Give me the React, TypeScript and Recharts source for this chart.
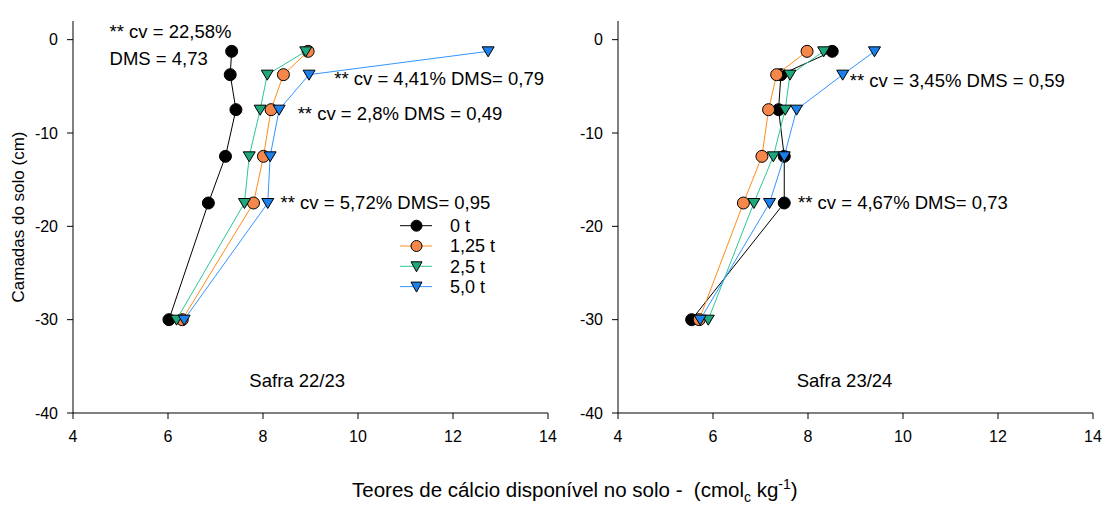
import {
  ScatterChart,
  Scatter,
  XAxis,
  YAxis,
  ReferenceDot,
  Legend,
  Label
} from "recharts";


// soil layers (cm), same for every series
const DEPTHS = [-1.25, -3.75, -7.5, -12.5, -17.5, -30];

// Safra 22/23
const T0_2223 = [7.34, 7.31, 7.43, 7.21, 6.85, 6.02];
const T125_2223 = [8.95, 8.43, 8.17, 8.01, 7.8, 6.3];
const T25_2223 = [8.9, 8.09, 7.94, 7.71, 7.61, 6.18];
const T50_2223 = [12.74, 8.97, 8.34, 8.15, 8.1, 6.34];

// Safra 23/24
const T0_2324 = [8.51, 7.43, 7.38, 7.5, 7.5, 5.55];
const T125_2324 = [7.98, 7.34, 7.17, 7.03, 6.64, 5.71];
const T25_2324 = [8.33, 7.62, 7.52, 7.27, 6.86, 5.9];
const T50_2324 = [9.4, 8.73, 7.76, 7.5, 7.19, 5.73];

const SERIES_NAMES = ["0 t", "1,25 t", "2,5 t", "5,0 t"];

const X_TICKS = [4, 6, 8, 10, 12, 14];
const Y_TICKS = [0, -10, -20, -30, -40];

const FONT = "'Liberation Sans', Arial, sans-serif";
const NOTE_SIZE = 18.5;

const STYLES = [
  { line: "#000000", fill: "#000000", kind: "circle" },
  { line: "#ff8c1a", fill: "#f5874a", kind: "circle" },
  { line: "#2cc797", fill: "#1ea67c", kind: "tri" },
  { line: "#3395ff", fill: "#1c80ec", kind: "tri" },
];


function toPoints(values: number[]) {
  return values.map((v, i) => ({ x: v, y: DEPTHS[i] }));
}


function Marker({ cx, cy, kind, fill, r = 6 }: any) {
  if (cx == null || cy == null) return null;
  if (kind === "circle") {
    return <circle cx={cx} cy={cy} r={r} fill={fill} stroke="#000" strokeWidth={1} />;
  }
  const w = r;
  return (
    <polygon
      points={`${cx - w},${cy - 4.5} ${cx + w},${cy - 4.5} ${cx},${cy + 5.5}`}
      fill={fill}
      stroke="#000"
      strokeWidth={1}
    />
  );
}


function LegendBox() {
  return (
    <svg width={130} height={90} style={{ fontFamily: FONT }}>
      {SERIES_NAMES.map((name, i) => {
        const cy = 11.7 + i * 20.3;
        const s = STYLES[i];
        return (
          <g key={name}>
            <line x1={5} x2={37} y1={cy} y2={cy} stroke={s.line} strokeWidth={1} />
            <Marker cx={21.5} cy={cy} kind={s.kind} fill={s.fill} r={5.5} />
            <text x={55} y={cy} dy="0.35em" fontSize={18} fill="#000">
              {name}
            </text>
          </g>
        );
      })}
    </svg>
  );
}


interface Note {
  x: number;
  y: number;
  text: string;
}

const NOTES_2223: Note[] = [
  { x: 4.77, y: 0.86, text: "** cv = 22,58%" },
  { x: 4.77, y: -2.04, text: "DMS = 4,73" },
  { x: 9.5, y: -4.2, text: "** cv = 4,41% DMS= 0,79" },
  { x: 8.73, y: -7.9, text: "** cv = 2,8% DMS = 0,49" },
  { x: 8.37, y: -17.4, text: "** cv = 5,72% DMS= 0,95" },
];

const NOTES_2324: Note[] = [
  { x: 8.88, y: -4.35, text: "** cv = 3,45% DMS = 0,59" },
  { x: 7.79, y: -17.4, text: "** cv = 4,67% DMS= 0,73" },
];


function Panel({
  series,
  notes,
  title,
  titleX,
  width,
  showLegend,
  showYTitle,
}: {
  series: number[][];
  notes: Note[];
  title: string;
  titleX: number;
  width: number;
  showLegend: boolean;
  showYTitle: boolean;
}) {
  const tick = { fill: "#000", fontSize: 16, fontFamily: FONT };
  const noteStyle = { fontSize: NOTE_SIZE, fill: "#000", fontFamily: FONT };

  return (
    <ScatterChart
      width={width}
      height={450}
      margin={{ top: 21, right: 9, left: 0, bottom: 0 }}
      style={{ fontFamily: FONT }}
    >
      <XAxis
        type="number"
        dataKey="x"
        domain={[4, 14]}
        ticks={X_TICKS}
        allowDataOverflow
        height={37}
        tick={tick}
        tickSize={6}
        tickMargin={12}
        tickLine={{ stroke: "#000" }}
        axisLine={{ stroke: "#000" }}
      />
      <XAxis
        xAxisId="top"
        orientation="top"
        type="number"
        domain={[4, 14]}
        height={0}
        tick={false}
        tickLine={false}
        axisLine={{ stroke: "#666", strokeWidth: 1.5 }}
      />
      <YAxis
        type="number"
        dataKey="y"
        domain={[-40, 2]}
        ticks={Y_TICKS}
        allowDataOverflow
        width={73}
        tick={tick}
        tickSize={6}
        tickMargin={9}
        tickLine={{ stroke: "#000" }}
        axisLine={{ stroke: "#000" }}
      >
        {showYTitle && (
          <Label
            value="Camadas do solo (cm)"
            angle={-90}
            position="center"
            dx={-18.5}
            style={{ fontSize: 17, fill: "#000", fontFamily: FONT }}
          />
        )}
      </YAxis>
      <YAxis
        yAxisId="right"
        orientation="right"
        type="number"
        domain={[-40, 2]}
        width={0}
        tick={false}
        tickLine={false}
        axisLine={{ stroke: "#666", strokeWidth: 1.5 }}
      />

      {series.map((values, i) => (
        <Scatter
          key={SERIES_NAMES[i]}
          name={SERIES_NAMES[i]}
          data={toPoints(values)}
          line={{ stroke: STYLES[i].line, strokeWidth: 1 }}
          isAnimationActive={false}
          shape={(p: any) => (
            <Marker cx={p.cx} cy={p.cy} kind={STYLES[i].kind} fill={STYLES[i].fill} />
          )}
        />
      ))}

      {notes.map((n) => (
        <ReferenceDot
          key={n.text}
          x={n.x}
          y={n.y}
          r={0}
          fill="none"
          stroke="none"
          label={{
            value: n.text,
            position: "right",
            offset: 0,
            style: noteStyle,
          }}
        />
      ))}

      <ReferenceDot
        x={titleX}
        y={-36.5}
        r={0}
        fill="none"
        stroke="none"
        label={{
          value: title,
          position: "center",
          style: noteStyle,
        }}
      />

      {showLegend && (
        <Legend
          layout="vertical"
          align="center"
          verticalAlign="middle"
          content={() => <LegendBox />}
          wrapperStyle={{ position: "absolute", left: 395, top: 214, width: 130 }}
        />
      )}
    </ScatterChart>
  );
}


export default function App() {
  return (
    <div
      style={{
        position: "absolute",
        left: 0,
        top: 0,
        width: 1102,
        height: 506,
        background: "#fff",
        fontFamily: FONT,
      }}
    >
      <div style={{ position: "absolute", left: 0, top: 0 }}>
        <Panel
          series={[T0_2223, T125_2223, T25_2223, T50_2223]}
          notes={NOTES_2223}
          title="Safra 22/23"
          titleX={8.72}
          width={557}
          showLegend
          showYTitle
        />
      </div>
      <div style={{ position: "absolute", left: 545, top: 0 }}>
        <Panel
          series={[T0_2324, T125_2324, T25_2324, T50_2324]}
          notes={NOTES_2324}
          title="Safra 23/24"
          titleX={8.77}
          width={557}
          showLegend={false}
          showYTitle={false}
        />
      </div>
      <div
        style={{
          position: "absolute",
          left: 352,
          top: 476,
          fontSize: 20.5,
          whiteSpace: "nowrap",
          color: "#000",
        }}
      >
        Teores de cálcio disponível no solo -&nbsp; (cmol
        <sub style={{ fontSize: 14 }}>c</sub> kg
        <sup style={{ fontSize: 14 }}>-1</sup>)
      </div>
    </div>
  );
}
